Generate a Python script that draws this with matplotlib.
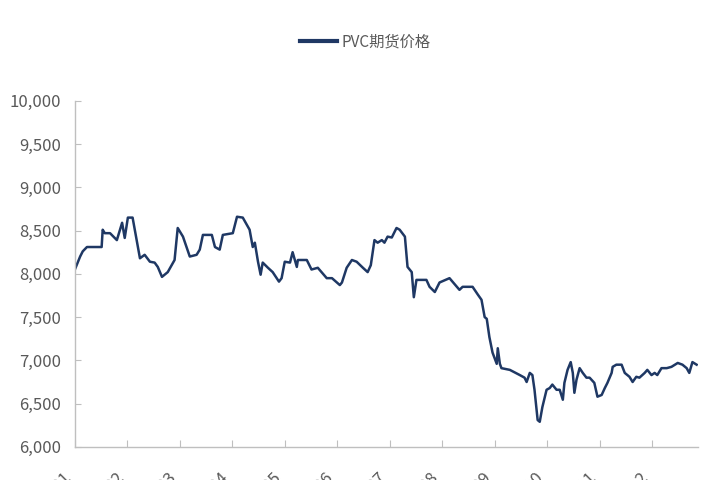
import matplotlib
matplotlib.use("Agg")
import matplotlib.pyplot as plt
from matplotlib.ticker import FuncFormatter, MultipleLocator

plt.rcParams['font.family'] = ['Liberation Sans Narrow', 'Noto Sans CJK SC', 'DejaVu Sans']

series_name = "PVC期货价格"
tick_labels = ["2011-01", "2011-02", "2011-03", "2011-04", "2011-05", "2011-06",
               "2011-07", "2011-08", "2011-09", "2011-10", "2011-11", "2011-12"]

# position in months from the first tick
month_pos = [0.00, 0.06, 0.10, 0.15, 0.23, 0.51, 0.53, 0.57, 0.67, 0.80,
             0.90, 0.95, 1.01, 1.10, 1.24, 1.33, 1.43, 1.52, 1.58, 1.66,
             1.77, 1.90, 1.96, 2.06, 2.19, 2.32, 2.38, 2.44, 2.61, 2.67,
             2.76, 2.82, 3.01, 3.09, 3.20, 3.33, 3.39, 3.43, 3.49, 3.54,
             3.58, 3.68, 3.77, 3.89, 3.94, 4.00, 4.10, 4.15, 4.23, 4.25,
             4.42, 4.51, 4.63, 4.70, 4.80, 4.90, 5.05, 5.09, 5.18, 5.28,
             5.37, 5.49, 5.58, 5.64, 5.71, 5.77, 5.85, 5.90, 5.96, 6.04,
             6.13, 6.19, 6.29, 6.34, 6.42, 6.46, 6.51, 6.70, 6.76, 6.86,
             6.95, 7.14, 7.28, 7.33, 7.39, 7.58, 7.68, 7.75, 7.81, 7.85,
             7.90, 7.96, 8.04, 8.06, 8.10, 8.13, 8.29, 8.48, 8.57, 8.61,
             8.67, 8.72, 8.76, 8.82, 8.86, 8.91, 8.99, 9.05, 9.10, 9.18,
             9.24, 9.30, 9.33, 9.39, 9.45, 9.49, 9.52, 9.56, 9.62, 9.68,
             9.75, 9.81, 9.90, 9.96, 10.04, 10.10, 10.15, 10.23, 10.25, 10.32,
             10.42, 10.48, 10.57, 10.63, 10.70, 10.76, 10.86, 10.91, 10.99, 11.05,
             11.10, 11.18, 11.28, 11.37, 11.49, 11.58, 11.66, 11.71, 11.77, 11.85]
price = [8050, 8140, 8200, 8260, 8310, 8310, 8510, 8470, 8470, 8390,
         8590, 8415, 8650, 8650, 8180, 8220, 8140, 8130, 8080, 7965,
         8020, 8160, 8530, 8430, 8200, 8220, 8280, 8450, 8450, 8310,
         8280, 8450, 8470, 8660, 8650, 8510, 8310, 8360, 8140, 7990,
         8130, 8070, 8020, 7910, 7950, 8140, 8130, 8250, 8080, 8160,
         8160, 8050, 8070, 8020, 7950, 7950, 7870, 7900, 8070, 8160,
         8140, 8070, 8020, 8100, 8390, 8360, 8390, 8360, 8430, 8420,
         8530, 8510, 8430, 8080, 8020, 7730, 7930, 7930, 7850, 7790,
         7900, 7950, 7850, 7815, 7850, 7850, 7760, 7700, 7500, 7480,
         7270, 7090, 6960, 7140, 6960, 6910, 6890, 6830, 6800, 6750,
         6855, 6830, 6660, 6310, 6290, 6460, 6660, 6680, 6720, 6660,
         6660, 6545, 6740, 6890, 6980, 6855, 6625, 6775, 6910, 6855,
         6800, 6800, 6740, 6580, 6600, 6680, 6740, 6855, 6925, 6950,
         6950, 6855, 6810, 6750, 6810, 6800, 6855, 6890, 6830, 6855,
         6830, 6910, 6910, 6925, 6970, 6950, 6910, 6855, 6980, 6950]

fig = plt.figure(figsize=(7.2, 4.8), dpi=100)
ax = fig.add_axes([0.104, 0.069, 0.865, 0.721])

line_color = "#1f3864"
grey_text = "#595959"
axis_grey = "#bfbfbf"

ax.plot(month_pos, price, color=line_color, lw=1.8, label=series_name, solid_joinstyle='round')

ax.set_xlim(0, 11.87)
ax.set_ylim(6000, 10000)
ax.yaxis.set_major_locator(MultipleLocator(500))
ax.yaxis.set_major_formatter(FuncFormatter(lambda v, p: f"{int(v):,}"))
ax.set_xticks(range(len(tick_labels)))
ax.set_xticklabels(tick_labels, rotation=45, ha='right', va='top')

for s in ['top', 'right']:
    ax.spines[s].set_visible(False)
for s in ['left', 'bottom']:
    ax.spines[s].set_color(axis_grey)
    ax.spines[s].set_linewidth(1.0)

ax.tick_params(axis='y', direction='in', length=4, color=axis_grey, labelcolor=grey_text,
               labelsize=12, pad=10)
ax.tick_params(axis='x', direction='in', length=5, color=axis_grey, labelcolor=grey_text,
               labelsize=12, pad=16)

leg = fig.legend(loc='center', bbox_to_anchor=(0.507, 0.912), frameon=False,
                 fontsize=11, handlelength=2.4, handletextpad=0.3)
for t in leg.get_texts():
    t.set_color(grey_text)
for h in leg.legend_handles:
    h.set_linewidth(3)

fig.savefig("out.png", dpi=100, facecolor="white")
